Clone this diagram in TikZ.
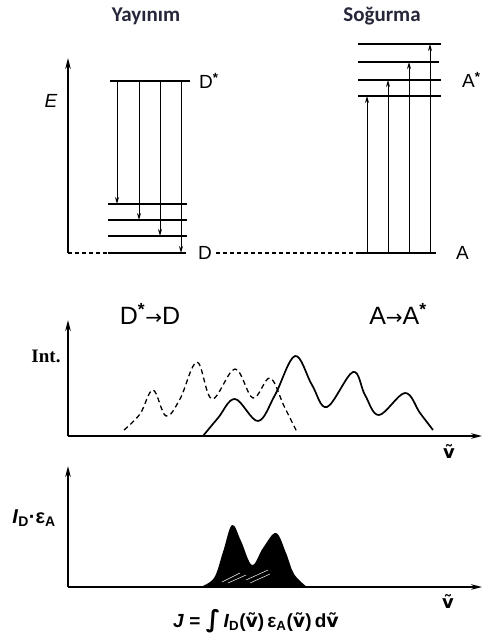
\documentclass[tikz,border=0pt]{standalone}
\usepackage{fontspec}
\setmainfont{Liberation Sans}
\setsansfont{Liberation Sans}
\newfontfamily\titlefont{Carlito}
\newfontfamily\symfont{DejaVu Sans}
\newfontfamily\slabfont{Liberation Serif}
\usetikzlibrary{positioning, arrows.meta}

\definecolor{titlecol}{RGB}{38,38,58}
\newcommand{\vtil}{{\symfont ṽ}}

\begin{document}
\begin{tikzpicture}[
  x=1pt, y=-1pt,
  axis/.style={-{Stealth[length=11pt,width=5.5pt]}, line width=1.6pt},
  level/.style={line width=2pt},
  trans/.style={-{Stealth[length=7pt,width=4pt]}, line width=1pt},
  guide/.style={line width=1.1pt, dash pattern=on 4pt off 3pt},
  title/.style={font=\titlefont\bfseries\fontsize{21}{23}\selectfont, text=titlecol},
  lbl/.style={font=\fontsize{19}{21}\selectfont, inner sep=0pt},
  biglbl/.style={font=\fontsize{25}{27}\selectfont, inner sep=0pt},
  small/.style={font=\bfseries\fontsize{18}{20}\selectfont, inner sep=0pt}
]
  \useasboundingbox (0,0) rectangle (482,637);

  % Titles
  \node[title] (yay) at (146,16) {Yayınım};
  \node[title] (sog) at (382,16) {Soğurma};

  % Energy axis
  \coordinate (eo) at (68,253);
  \coordinate (etop) at (68,58);
  \draw[axis] (eo) -- (etop);
  \node[lbl, font=\fontsize{19}{21}\selectfont\itshape] (elbl) at (51,101) {E};

  % Donor levels
  \draw[level] (110,81) coordinate (dstar) -- (190,81) coordinate (dstar-e);
  \draw[level] (108,204) coordinate (d3) -- (187,204);
  \draw[level] (108,220) coordinate (d2) -- (187,220);
  \draw[level] (108,236) coordinate (d1) -- (187,236);
  \draw[level] (108,253) coordinate (d0) -- (186,253) coordinate (d0-e);
  \node[lbl, right=9pt of dstar-e] (dstarlbl) {D\textsuperscript{\textbf{*}}};
  \node[lbl, right=12pt of d0-e] (dlbl) {D};

  % Emission
  \draw[trans] (117,0 |- dstar) -- (117,0 |- d3);
  \draw[trans] (139,0 |- dstar) -- (139,0 |- d2);
  \draw[trans] (160,0 |- dstar) -- (160,0 |- d1);
  \draw[trans] (181,0 |- dstar) -- (181,0 |- d0);

  % Acceptor levels
  \draw[level] (358,253) coordinate (a0) -- (436,253) coordinate (a0-e);
  \draw[level] (358,96) coordinate (a1) -- (441,96);
  \draw[level] (358,80) coordinate (a2) -- (441,80) coordinate (a2-e);
  \draw[level] (358,62) coordinate (a3) -- (439,62);
  \draw[level] (358,44) coordinate (a4) -- (441,44);
  \node[lbl, right=21pt of a2-e] (astarlbl) {A\textsuperscript{\textbf{*}}};
  \node[lbl, right=20pt of a0-e] (albl) {A};

  % Absorption
  \draw[trans] (367,0 |- a0) -- (367,0 |- a1);
  \draw[trans] (388,0 |- a0) -- (388,0 |- a2);
  \draw[trans] (409,0 |- a0) -- (409,0 |- a3);
  \draw[trans] (430,0 |- a0) -- (430,0 |- a4);

  % Ground level guides
  \draw[guide] (eo) -- (d0);
  \draw[guide] (dlbl.east) ++(4,0) coordinate (gd) -- (a0);

  % Spectra
  \node[biglbl] (emlbl) at (150,314) {D\textsuperscript{\textbf{*}}{\symfont\fontsize{20}{20}\selectfont →}D};
  \node[biglbl] (ablbl) at (398,314) {A{\symfont\fontsize{20}{20}\selectfont →}A\textsuperscript{\textbf{*}}};
  \coordinate (io) at (68,436);
  \coordinate (itop) at (68,320);
  \coordinate (iright) at (482,436);
  \draw[axis] (io) -- (itop);
  \draw[axis] (io) -- (iright);
  \node[small, font=\slabfont\bfseries\fontsize{19}{21}\selectfont] (intlbl) at (46,356) {Int.};
  \node[small] (nu1) at (449,451) {\vtil};

  \draw[line width=1.3pt, dash pattern=on 5pt off 3.5pt] plot[smooth, tension=0.6] coordinates {
    (124,430) (140,414) (153,390) (166,416) (180,399) (197,362) (212,399)
    (235,369) (253,398) (270,378) (284,406) (297,432)};
  \draw[line width=1.7pt] plot[smooth, tension=0.6] coordinates {
    (203,436) (218,418) (235,399) (258,421) (275,395) (295,356) (312,385)
    (327,407) (353,372) (365,395) (379,415) (405,393) (420,413) (433,430)};

  % Overlap integral
  \coordinate (jo) at (68,587);
  \coordinate (jtop) at (68,466);
  \coordinate (jright) at (482,587);
  \draw[axis] (jo) -- (jtop);
  \draw[axis] (jo) -- (jright);
  \node[small, font=\bfseries\fontsize{20}{22}\selectfont] (idlbl) at (34,518)
    {\textit{I}\textsubscript{D}·ε\textsubscript{A}};
  \node[small] (nu2) at (448,601) {\vtil};

  \fill plot[smooth, tension=0.6] coordinates {
    (200,587) (214,578) (223,552) (232,525) (241,541) (252,565) (263,548)
    (276,533) (286,553) (294,574) (307,587)} -- cycle;
  \draw[white, line width=0.5pt] (222,582) -- (240,573) (228,583) -- (246,575)
    (246,580) -- (268,570) (250,583) -- (270,574);

  \node[small, font=\bfseries\fontsize{19}{21}\selectfont] (jlbl) at (256,621)
    {\textit{J} = {\symfont\fontsize{24}{24}\selectfont ∫}\,\textit{I}\textsubscript{D}(\vtil)\,ε\textsubscript{A}(\vtil)\,d\vtil};
\end{tikzpicture}
\end{document}
